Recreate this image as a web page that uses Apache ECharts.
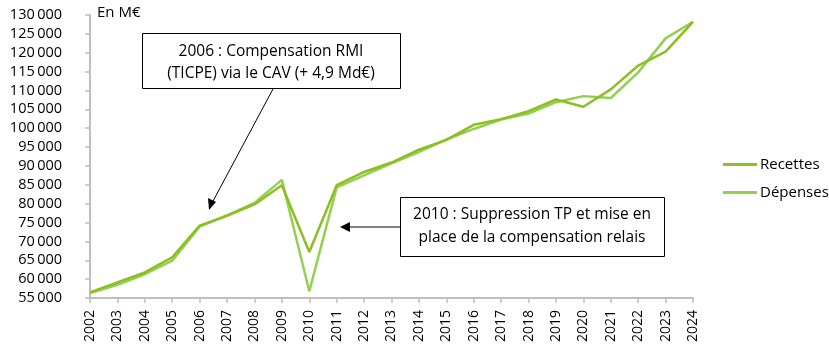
<!DOCTYPE html>
<html><head><meta charset="utf-8">
<script src="https://cdn.jsdelivr.net/npm/echarts@6/dist/echarts.min.js"></script>
<style>html,body{margin:0;padding:0;background:#fff}#c{width:829px;height:355px}</style>
</head><body><div id="c"></div>
<script>
const years = ['2002','2003','2004','2005','2006','2007','2008','2009','2010','2011','2012','2013','2014','2015','2016','2017','2018','2019','2020','2021','2022','2023','2024'];
const recettes = [56500,59100,61800,65800,74200,76800,79800,84900,67200,84900,88400,90900,94300,96900,100900,102400,104500,107600,105700,110300,116600,120300,128200];
const depenses = [56300,58500,61300,64900,73900,76900,80200,86300,56800,84300,87500,90700,93700,97000,99800,102300,103900,106900,108500,108000,114800,123800,128200];
const yTicks = {min:55000, max:130000, step:5000};
const seriesNames = ['Recettes','Dépenses'];
const unitLabel = 'En M€';
const note1 = ['2006 : Compensation RMI','(TICPE) via le CAV (+ 4,9 Md€)'];
const note2 = ['2010 : Suppression TP et mise en','place de la compensation relais'];

const FONT = '"Open Sans", "Noto Sans", sans-serif';
const chart = echarts.init(document.getElementById('c'));
chart.setOption({
  animation:false,
  textStyle:{fontFamily:FONT},
  grid:{left:90,right:136,top:15,bottom:57,containLabel:false},
  legend:{
    orient:'vertical', left:718, top:152, itemWidth:34, itemHeight:3, itemGap:13,
    icon:'rect',
    textStyle:{fontFamily:FONT,fontSize:15,color:'#000',padding:[0,0,0,-2]},
    data:seriesNames
  },
  xAxis:{
    type:'category', data:years, boundaryGap:false,
    axisLine:{lineStyle:{color:'#BFBFBF',width:2}},
    axisTick:{show:true,alignWithLabel:true,length:5,lineStyle:{color:'#BFBFBF',width:1.5}},
    axisLabel:{rotate:90,fontSize:14,color:'#000',margin:12,fontFamily:FONT,interval:0}
  },
  yAxis:{
    type:'value', min:yTicks.min, max:yTicks.max, interval:yTicks.step,
    splitLine:{show:false},
    axisLine:{show:true,lineStyle:{color:'#BFBFBF',width:2}},
    axisTick:{show:true,length:5,lineStyle:{color:'#BFBFBF',width:1.5}},
    axisLabel:{fontSize:14.5,color:'#000',margin:28,fontFamily:FONT,
      formatter:v=>String(v).replace(/\B(?=(\d{3})+(?!\d))/g,'\u2009')}
  },
  series:[
    {name:seriesNames[0],type:'line',data:recettes,showSymbol:false,symbol:'none',
     lineStyle:{color:'#8DBE22',width:2.5},itemStyle:{color:'#8DBE22'},z:3},
    {name:seriesNames[1],type:'line',data:depenses,showSymbol:false,symbol:'none',
     lineStyle:{color:'#92D050',width:2.5},itemStyle:{color:'#92D050'},z:2}
  ],
  graphic:[
    {type:'text',left:97,top:5,style:{text:unitLabel,font:'15px '+FONT,fill:'#000'}},
    {type:'rect',shape:{x:142.5,y:33.5,width:258,height:55},style:{fill:'#fff',stroke:'#000',lineWidth:1}},
    {type:'text',x:271,y:52,style:{text:note1[0],font:'15.5px '+FONT,fill:'#000',align:'center',verticalAlign:'middle'}},
    {type:'text',x:271,y:74,style:{text:note1[1],font:'15.5px '+FONT,fill:'#000',align:'center',verticalAlign:'middle'}},
    {type:'line',shape:{x1:273,y1:89,x2:212,y2:203},style:{stroke:'#000',lineWidth:1}},
    {type:'polygon',shape:{points:[[209,210],[208,198],[216,202]]},style:{fill:'#000'}},
    {type:'rect',shape:{x:400.5,y:197.5,width:264,height:59},style:{fill:'#fff',stroke:'#000',lineWidth:1}},
    {type:'text',x:532,y:215,style:{text:note2[0],font:'15.5px '+FONT,fill:'#000',align:'center',verticalAlign:'middle'}},
    {type:'text',x:532,y:238,style:{text:note2[1],font:'15.5px '+FONT,fill:'#000',align:'center',verticalAlign:'middle'}},
    {type:'line',shape:{x1:400,y1:227,x2:348,y2:227},style:{stroke:'#000',lineWidth:1}},
    {type:'polygon',shape:{points:[[340,227],[350,222],[350,232]]},style:{fill:'#000'}}
  ]
});
</script></body></html>
